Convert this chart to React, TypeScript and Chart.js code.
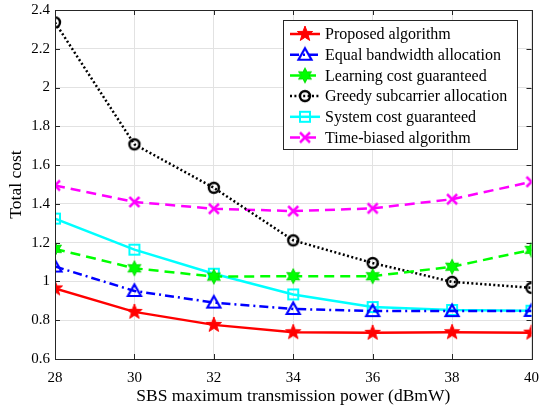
import React, { useEffect, useRef } from 'react';
import { Chart, registerables } from 'chart.js';

Chart.register(...registerables);

const xValues = [28, 30, 32, 34, 36, 38, 40];
const proposed = [0.964, 0.843, 0.776, 0.738, 0.735, 0.738, 0.736];
const equalBandwidth = [1.077, 0.951, 0.891, 0.858, 0.847, 0.847, 0.848];
const learningCost = [1.168, 1.068, 1.025, 1.027, 1.027, 1.076, 1.163];
const greedy = [2.336, 1.707, 1.483, 1.212, 1.095, 0.998, 0.967];
const systemCost = [1.324, 1.164, 1.04, 0.933, 0.868, 0.853, 0.849];
const timeBiased = [1.495, 1.41, 1.375, 1.363, 1.377, 1.424, 1.514];

const seriesNames = [
  'Proposed algorithm',
  'Equal bandwidth allocation',
  'Learning cost guaranteed',
  'Greedy subcarrier allocation',
  'System cost guaranteed',
  'Time-biased algorithm',
];
const xTitle = 'SBS maximum transmission power (dBmW)';
const yTitle = 'Total cost';

const FONT = "'Liberation Serif', 'Times New Roman', serif";
const TEXT = '#262626';

function makeCanvas(draw: (ctx: CanvasRenderingContext2D) => void, size = 20) {
  const c = document.createElement('canvas');
  c.width = size;
  c.height = size;
  const ctx = c.getContext('2d')!;
  ctx.translate(size / 2, size / 2);
  draw(ctx);
  return c;
}

function starPath(ctx: CanvasRenderingContext2D, n: number, ro: number, ri: number) {
  ctx.beginPath();
  for (let i = 0; i < n * 2; i++) {
    const r = i % 2 === 0 ? ro : ri;
    const a = -Math.PI / 2 + (i * Math.PI) / n;
    const x = r * Math.cos(a);
    const y = r * Math.sin(a);
    if (i === 0) ctx.moveTo(x, y);
    else ctx.lineTo(x, y);
  }
  ctx.closePath();
}

function makeMarkers() {
  const star = makeCanvas((ctx) => {
    starPath(ctx, 5, 8, 3.3);
    ctx.fillStyle = '#ff0000';
    ctx.fill();
    ctx.strokeStyle = '#ff0000';
    ctx.lineWidth = 1;
    ctx.stroke();
  });
  const tri = makeCanvas((ctx) => {
    ctx.beginPath();
    ctx.moveTo(0, -6.5);
    ctx.lineTo(6.5, 5);
    ctx.lineTo(-6.5, 5);
    ctx.closePath();
    ctx.strokeStyle = '#0000ff';
    ctx.lineWidth = 2.2;
    ctx.stroke();
  });
  const hex = makeCanvas((ctx) => {
    starPath(ctx, 6, 7.5, 4);
    ctx.fillStyle = '#00ff00';
    ctx.fill();
    ctx.strokeStyle = '#00dd00';
    ctx.lineWidth = 1;
    ctx.stroke();
  });
  const circ = makeCanvas((ctx) => {
    ctx.beginPath();
    ctx.arc(0, 0, 5, 0, Math.PI * 2);
    ctx.strokeStyle = '#000000';
    ctx.lineWidth = 2.4;
    ctx.stroke();
  });
  const sq = makeCanvas((ctx) => {
    ctx.strokeStyle = '#00ffff';
    ctx.lineWidth = 2;
    ctx.strokeRect(-5, -5, 10, 10);
  });
  const cross = makeCanvas((ctx) => {
    ctx.strokeStyle = '#ff00ff';
    ctx.lineWidth = 2.5;
    ctx.beginPath();
    ctx.moveTo(-5, -5);
    ctx.lineTo(5, 5);
    ctx.moveTo(5, -5);
    ctx.lineTo(-5, 5);
    ctx.stroke();
  });
  return [star, tri, hex, circ, sq, cross];
}

export default function App() {
  const ref = useRef<HTMLCanvasElement | null>(null);

  useEffect(() => {
    document.body.style.margin = '0';
    const canvas = ref.current;
    if (!canvas) return;
    const markers = makeMarkers();
    const seriesValues = [proposed, equalBandwidth, learningCost, greedy, systemCost, timeBiased];
    const colors = ['#ff0000', '#0000ff', '#00ff00', '#000000', '#00ffff', '#ff00ff'];
    const dashes: number[][] = [[], [9, 4, 2, 4], [10, 6], [2, 2.4], [], [10, 6]];
    const widths = [2.5, 2.5, 2.5, 2.5, 2.5, 2.5];

    const datasets = seriesNames.map((name, i) => ({
      label: name,
      data: xValues.map((x, j) => ({ x, y: seriesValues[i][j] })),
      borderColor: colors[i],
      backgroundColor: colors[i],
      borderWidth: widths[i],
      borderDash: dashes[i],
      pointStyle: markers[i] as any,
      pointRadius: 6,
      tension: 0,
      fill: false,
    }));

    const framePlugin = {
      id: 'frame',
      afterDraw(chart: any) {
        const { ctx, chartArea } = chart;
        const { left, right, top, bottom } = chartArea;
        ctx.save();
        ctx.strokeStyle = TEXT;
        ctx.lineWidth = 1;
        ctx.setLineDash([]);
        ctx.strokeRect(Math.round(left) + 0.5, Math.round(top) + 0.5, Math.round(right - left), Math.round(bottom - top));
        const xs = chart.scales.x;
        const ys = chart.scales.y;
        ctx.beginPath();
        xs.ticks.forEach((t: any) => {
          const px = Math.round(xs.getPixelForValue(t.value)) + 0.5;
          ctx.moveTo(px, bottom);
          ctx.lineTo(px, bottom - 5);
          ctx.moveTo(px, top);
          ctx.lineTo(px, top + 5);
        });
        ys.ticks.forEach((t: any) => {
          const py = Math.round(ys.getPixelForValue(t.value)) + 0.5;
          ctx.moveTo(left, py);
          ctx.lineTo(left + 5, py);
          ctx.moveTo(right, py);
          ctx.lineTo(right - 5, py);
        });
        ctx.stroke();

        // legend
        const bx = 283, by = 20, bw = 234, bh = 129;
        ctx.fillStyle = '#ffffff';
        ctx.fillRect(bx, by, bw, bh);
        ctx.strokeStyle = TEXT;
        ctx.strokeRect(bx + 0.5, by + 0.5, bw, bh);
        ctx.font = `16px ${FONT}`;
        ctx.textBaseline = 'middle';
        ctx.textAlign = 'left';
        chart.data.datasets.forEach((ds: any, i: number) => {
          const y = 34 + i * 20.7;
          ctx.strokeStyle = ds.borderColor;
          ctx.lineWidth = ds.borderWidth;
          ctx.setLineDash(ds.borderDash || []);
          ctx.beginPath();
          ctx.moveTo(290, y);
          ctx.lineTo(320, y);
          ctx.stroke();
          ctx.setLineDash([]);
          const m = ds.pointStyle as HTMLCanvasElement;
          ctx.drawImage(m, 305 - m.width / 2, y - m.height / 2);
          ctx.fillStyle = '#000000';
          ctx.fillText(ds.label, 325, y + 1);
        });
        ctx.restore();
      },
    };

    const chart = new Chart(canvas, {
      type: 'line',
      data: { datasets },
      options: {
        animation: false,
        responsive: false,
        maintainAspectRatio: false,
        layout: { padding: { top: 10, right: 7, left: 0, bottom: 0 } },
        plugins: { legend: { display: false }, tooltip: { enabled: false } },
        scales: {
          x: {
            type: 'linear',
            min: 28,
            max: 40,
            ticks: { stepSize: 2, color: '#000', font: { family: FONT, size: 15 }, padding: 10 },
            grid: { color: '#e2e2e2', drawTicks: false, lineWidth: 1 },
            border: { display: false },
            title: { display: true, text: xTitle, color: '#000', font: { family: FONT, size: 17.5 }, padding: { top: 0, bottom: 2 } },
            afterFit: (s: any) => {
              s.height = 50;
              s.paddingLeft = 0;
              s.paddingRight = 0;
            },
          },
          y: {
            type: 'linear',
            min: 0.6,
            max: 2.4,
            ticks: {
              stepSize: 0.2,
              color: '#000',
              font: { family: FONT, size: 15 },
              padding: 5,
              callback: (v: any) => String(Number(Number(v).toFixed(1))),
            },
            grid: { color: '#e2e2e2', drawTicks: false, lineWidth: 1 },
            border: { display: false },
            title: { display: true, text: yTitle, color: '#000', font: { family: FONT, size: 17.5 }, padding: { top: 6, bottom: 0 } },
            afterFit: (s: any) => {
              s.width = 55;
              s.paddingTop = 0;
              s.paddingBottom = 0;
            },
          },
        },
      },
      plugins: [framePlugin],
    });
    return () => chart.destroy();
  }, []);

  return (
    <div style={{ width: 540, height: 409 }}>
      <canvas ref={ref} width={540} height={409} style={{ width: 540, height: 409, display: 'block' }} />
    </div>
  );
}
